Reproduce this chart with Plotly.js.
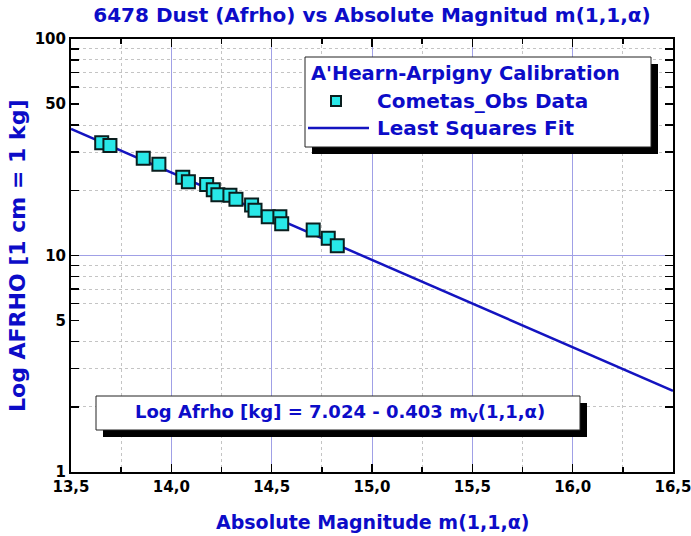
<!DOCTYPE html>
<html>
<head>
<meta charset="utf-8">
<script src="https://cdn.plot.ly/plotly-3.0.1.min.js"></script>
<style>html,body{margin:0;padding:0;background:#fff;}#chart{width:691px;height:536px;}</style>
</head>
<body>
<div id="chart"></div>
<script>
// ---- data ----
const magnitude = [13.653, 13.694, 13.860, 13.938, 14.057, 14.085, 14.176, 14.209, 14.232, 14.292,
                   14.322, 14.400, 14.417, 14.483, 14.541, 14.550, 14.707, 14.782, 14.827];
const afrho = [33.2, 32.2, 28.1, 26.4, 23.0, 21.9, 21.3, 20.1, 19.1, 19.0,
               18.2, 17.1, 16.2, 15.1, 15.1, 14.0, 13.1, 12.0, 11.1];
const fitMag = [13.5, 16.5];
const fitAfrho = [38.4, 2.37];
const xTickVals = [13.5, 14.0, 14.5, 15.0, 15.5, 16.0, 16.5];
const xTickText = ["13,5", "14,0", "14,5", "15,0", "15,5", "16,0", "16,5"];
const xMinorVals = [13.75, 14.25, 14.75, 15.25, 15.75, 16.25];
const yTickVals = [1, 5, 10, 50, 100];
const yTickText = ["1", "5", "10", "50", "100"];
const yMinorVals = [2, 3, 4, 6, 7, 8, 9, 20, 30, 40, 60, 70, 80, 90];
const titleText = "6478 Dust (Afrho) vs Absolute Magnitud m(1,1,α)";
const xTitle = "Absolute Magnitude m(1,1,α)";
const yTitle = "Log AFRHO [1 cm = 1 kg]";
const legendTitle = "A'Hearn-Arpigny Calibration";
const seriesNames = ["Cometas_Obs Data", "Least Squares Fit"];
const equationText = "Log Afrho [kg] = 7.024 - 0.403 m<sub>V</sub>(1,1,α)";

// ---- layout geometry (pixels) ----
const W = 691, H = 536;
const L = 71, R = 673, T = 39, B = 472;
const pw = R - L, ph = B - T;
const px = x => (x - L) / pw;
const py = y => (B - y) / ph;

const BLUE = '#0C0CC8';
const FONT = 'DejaVu Sans, Verdana, sans-serif';

const traces = [
  {
    x: fitMag, y: fitAfrho, mode: 'lines', name: seriesNames[1],
    line: {color: '#1414C0', width: 2.5}, hoverinfo: 'skip'
  },
  {
    x: magnitude, y: afrho, mode: 'markers', name: seriesNames[0],
    marker: {symbol: 'square', size: 13, color: '#28E8E8', line: {color: '#0A1E1E', width: 2}}
  },
  // overlay axis used only for the solid gridline at 10
  {x: [13.5], y: [10], yaxis: 'y2', mode: 'markers', marker: {opacity: 0}, hoverinfo: 'skip', showlegend: false}
];

const shapes = [
  // legend shadow + box
  {type: 'rect', xref: 'paper', yref: 'paper', x0: px(312), x1: px(658), y0: py(154), y1: py(64),
   fillcolor: '#000', line: {width: 0}},
  {type: 'rect', xref: 'paper', yref: 'paper', x0: px(305), x1: px(651), y0: py(147), y1: py(57),
   fillcolor: '#fff', line: {color: '#222', width: 1}},
  // legend samples
  {type: 'rect', xref: 'paper', yref: 'paper', x0: px(331), x1: px(341), y0: py(106), y1: py(96),
   fillcolor: '#28E8E8', line: {color: '#0A1E1E', width: 2}},
  {type: 'line', xref: 'paper', yref: 'paper', x0: px(308), x1: px(369), y0: py(128), y1: py(128),
   line: {color: '#1414C0', width: 2.5}},
  // equation shadow + box
  {type: 'rect', xref: 'paper', yref: 'paper', x0: px(103), x1: px(587), y0: py(437), y1: py(403),
   fillcolor: '#000', line: {width: 0}},
  {type: 'rect', xref: 'paper', yref: 'paper', x0: px(96), x1: px(580), y0: py(430), y1: py(396),
   fillcolor: '#fff', line: {color: '#222', width: 1}}
];

const annotations = [
  {text: legendTitle, xref: 'paper', yref: 'paper', x: px(309), y: py(73), xanchor: 'left', yanchor: 'middle',
   showarrow: false, font: {family: FONT, size: 19.5, color: BLUE, weight: 'bold'}},
  {text: seriesNames[0], xref: 'paper', yref: 'paper', x: px(375), y: py(101), xanchor: 'left', yanchor: 'middle',
   showarrow: false, font: {family: FONT, size: 20, color: BLUE, weight: 'bold'}},
  {text: seriesNames[1], xref: 'paper', yref: 'paper', x: px(375), y: py(128), xanchor: 'left', yanchor: 'middle',
   showarrow: false, font: {family: FONT, size: 20, color: BLUE, weight: 'bold'}},
  {text: equationText, xref: 'paper', yref: 'paper', x: px(340), y: py(413), xanchor: 'center', yanchor: 'middle',
   showarrow: false, font: {family: FONT, size: 18, color: BLUE, weight: 'bold'}},
  {text: yTitle, xref: 'paper', yref: 'paper', x: px(18), y: py(256), xanchor: 'center', yanchor: 'middle',
   textangle: -90, showarrow: false, font: {family: FONT, size: 22, color: BLUE, weight: 'bold'}},
  {text: xTitle, xref: 'paper', yref: 'paper', x: 0.5, y: py(522), xanchor: 'center', yanchor: 'middle',
   showarrow: false, font: {family: FONT, size: 19, color: BLUE, weight: 'bold'}}
];

const layout = {
  width: W, height: H,
  margin: {l: L, r: W - R, t: T, b: H - B, pad: 0},
  paper_bgcolor: '#fff', plot_bgcolor: '#fff',
  showlegend: false,
  title: {text: titleText, x: 0.5 * (L + R) / W, xanchor: 'center', xref: 'container',
          y: 1 - 15 / H, yanchor: 'middle', yref: 'container',
          font: {family: FONT, size: 20, color: BLUE, weight: 'bold'}},
  xaxis: {
    range: [13.5, 16.5], tickmode: 'array', tickvals: xTickVals, ticktext: xTickText,
    ticks: 'inside', ticklen: 8, tickwidth: 1.5, tickcolor: '#000',
    showline: true, linecolor: '#000', linewidth: 2, mirror: 'ticks',
    showgrid: true, gridcolor: '#A0A0E6', gridwidth: 1, zeroline: false,
    ticklabeloverflow: 'allow',
    tickfont: {family: FONT, size: 15, color: '#000', weight: 'bold'},
    minor: {tickmode: 'array', tickvals: xMinorVals, ticks: 'inside', ticklen: 5, tickcolor: '#000',
            showgrid: true, gridcolor: '#C4C4C4', griddash: 'dot', gridwidth: 1}
  },
  yaxis: {
    type: 'log', range: [0, 2], tickmode: 'array', tickvals: yTickVals, ticktext: yTickText,
    ticks: 'inside', ticklen: 8, tickwidth: 1.5, tickcolor: '#000',
    showline: true, linecolor: '#000', linewidth: 2, mirror: 'ticks',
    showgrid: false, zeroline: false, ticklabeloverflow: 'allow',
    tickfont: {family: FONT, size: 15, color: '#000', weight: 'bold'},
    minor: {tickmode: 'array', tickvals: yMinorVals, ticks: 'inside', ticklen: 8, tickcolor: '#000',
            showgrid: true, gridcolor: '#C4C4C4', griddash: 'dot', gridwidth: 1}
  },
  yaxis2: {
    type: 'log', range: [0, 2], overlaying: 'y', side: 'left', tickmode: 'array', tickvals: [10],
    showticklabels: false, ticks: '', showgrid: true, gridcolor: '#A0A0E6', gridwidth: 1,
    showline: false, zeroline: false
  },
  shapes: shapes,
  annotations: annotations
};

Plotly.newPlot('chart', traces, layout, {displayModeBar: false, staticPlot: true});
</script>
</body>
</html>
